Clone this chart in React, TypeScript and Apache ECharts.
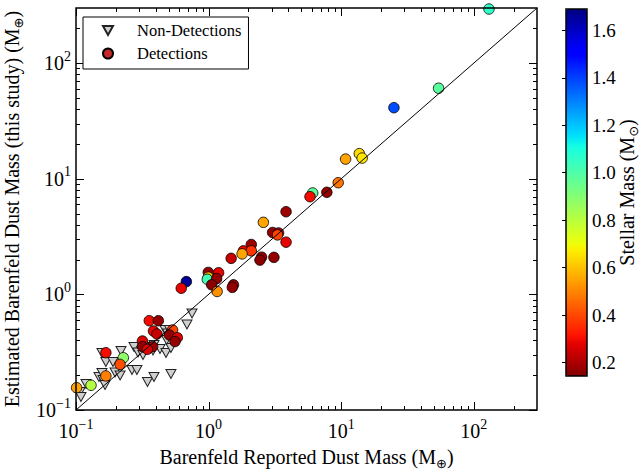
import React, { useEffect, useRef } from 'react';
import * as echarts from 'echarts';

// ---- Data ----
const AXIS_MIN = 0.1;
const AXIS_MAX = 300;
const MASS_MIN = 0.143;
const MASS_MAX = 1.69;

// Detections: reported dust mass (x), estimated dust mass (y), stellar mass (colour)
const DET_X = [130.3, 54.3, 25.0, 10.8, 13.7, 14.4, 9.5, 7.8, 6.1, 5.82, 3.84, 2.59, 3.04, 3.37, 3.31, 3.84, 2.10, 1.83, 2.10, 1.79, 1.48, 2.51, 2.44, 3.11, 0.995, 1.19, 0.995, 0.978, 1.15, 1.055, 1.16, 1.54, 1.51, 0.68, 0.622, 0.357, 0.418, 0.384, 0.408, 0.535, 0.506, 0.581, 0.558, 0.317, 0.318, 0.378, 0.168, 0.2275, 0.215, 0.168, 0.1298, 0.101, 0.345];
const DET_Y = [294, 60.7, 41.2, 14.8, 16.5, 15.1, 9.25, 7.64, 7.54, 7.0, 5.19, 4.2, 3.43, 3.40, 3.27, 2.83, 2.70, 2.38, 2.38, 2.24, 2.05, 2.10, 1.98, 2.09, 1.55, 1.54, 1.41, 1.35, 1.37, 1.21, 1.06, 1.21, 1.15, 1.29, 1.13, 0.592, 0.592, 0.482, 0.454, 0.492, 0.446, 0.422, 0.391, 0.395, 0.353, 0.353, 0.313, 0.283, 0.248, 0.197, 0.1636, 0.156, 0.335];
const DET_MASS = [1.06, 0.98, 1.38, 0.55, 0.64, 0.66, 0.47, 0.17, 0.97, 0.30, 0.18, 0.55, 0.17, 0.19, 0.39, 0.28, 0.18, 0.29, 0.37, 0.55, 0.24, 0.17, 0.16, 0.17, 0.17, 0.28, 0.60, 1.02, 0.17, 0.16, 0.52, 0.17, 0.17, 1.66, 0.28, 0.30, 0.17, 0.28, 0.24, 0.39, 0.17, 0.27, 0.17, 0.27, 0.17, 0.18, 0.30, 0.88, 0.41, 0.49, 0.81, 0.55, 0.27];

// Non-detections (upper limits)
const NON_X = [0.1072, 0.109, 0.119, 0.149, 0.157, 0.16, 0.1656, 0.157, 0.168, 0.19, 0.197, 0.215, 0.2185, 0.2644, 0.288, 0.274, 0.2935, 0.32, 0.346, 0.3875, 0.52, 0.381, 0.43, 0.4773, 0.52, 0.469, 0.49, 0.5073, 0.75, 0.687, 0.483, 0.3875, 0.337];
const NON_Y = [0.143, 0.1296, 0.168, 0.193, 0.209, 0.1817, 0.1644, 0.311, 0.26, 0.26, 0.211, 0.199, 0.324, 0.222, 0.222, 0.351, 0.3144, 0.299, 0.1746, 0.193, 0.2048, 0.327, 0.337, 0.311, 0.344, 0.492, 0.459, 0.492, 0.684, 0.549, 0.403, 0.365, 0.351];

const ONE_TO_ONE = [[0.1, 0.1], [300, 300]];

const MAJOR_TICKS = [0.1, 1, 10, 100];
const MINOR_TICKS = [0.2, 0.3, 0.4, 0.5, 0.6, 0.7, 0.8, 0.9, 2, 3, 4, 5, 6, 7, 8, 9, 20, 30, 40, 50, 60, 70, 80, 90, 200];
const CBAR_TICKS = [0.2, 0.4, 0.6, 0.8, 1.0, 1.2, 1.4, 1.6];

const SERIF = "'Liberation Serif', 'DejaVu Serif', serif";
const TRI = 'path://M0,0L10,0L5,9Z';

// jet colormap (matplotlib segment data)
function interp(pts: number[][], s: number) {
  for (let i = 1; i < pts.length; i++) {
    if (s <= pts[i][0]) {
      const [x0, y0] = pts[i - 1];
      const [x1, y1] = pts[i];
      return y0 + ((s - x0) / (x1 - x0)) * (y1 - y0);
    }
  }
  return pts[pts.length - 1][1];
}
function jet(s: number) {
  const r = interp([[0, 0], [0.35, 0], [0.66, 1], [0.89, 1], [1, 0.5]], s);
  const g = interp([[0, 0], [0.125, 0], [0.375, 1], [0.64, 1], [0.91, 0], [1, 0]], s);
  const b = interp([[0, 0.5], [0.11, 1], [0.34, 1], [0.65, 0], [1, 0]], s);
  const h = (v: number) => Math.round(Math.max(0, Math.min(1, v)) * 255).toString(16).padStart(2, '0');
  return '#' + h(r) + h(g) + h(b);
}
const JET_R: string[] = [];
for (let i = 0; i <= 64; i++) JET_R.push(jet(1 - i / 64));

function supLabel(v: number) {
  const e = Math.log10(v);
  const r = Math.round(e);
  if (Math.abs(e - r) > 1e-6) return '';
  return '{b|10}{s|' + (r < 0 ? '\u2212' : '') + Math.abs(r) + '}';
}

const labelRich = {
  b: { fontSize: 20, fontFamily: SERIF, color: '#000', lineHeight: 22 },
  s: { fontSize: 14, fontFamily: SERIF, color: '#000', lineHeight: 14, padding: [0, 0, 14, 0] },
};
const nameRich = {
  t: { fontSize: 20, fontFamily: SERIF, color: '#000', lineHeight: 22 },
  sub: { fontSize: 13, fontFamily: "'DejaVu Sans', sans-serif", color: '#000', lineHeight: 13, padding: [12, 0, 0, 0] },
};

function tickSeries(values: number[], axis: 'x' | 'y', len: number) {
  return {
    type: 'custom',
    xAxisIndex: 0,
    yAxisIndex: 0,
    silent: true,
    z: 6,
    clip: false,
    data: values.map((v) => (axis === 'x' ? [v, 1] : [1, v])),
    renderItem: (params: any, api: any) => {
      const cs = params.coordSys;
      const p = api.coord([api.value(0), api.value(1)]);
      const st = { stroke: '#000', lineWidth: 1 };
      if (axis === 'x') {
        const x = Math.round(p[0]) + 0.5;
        return {
          type: 'group',
          children: [
            { type: 'line', shape: { x1: x, y1: cs.y + cs.height, x2: x, y2: cs.y + cs.height - len }, style: st },
            { type: 'line', shape: { x1: x, y1: cs.y, x2: x, y2: cs.y + len }, style: st },
          ],
        };
      }
      const y = Math.round(p[1]) + 0.5;
      return {
        type: 'group',
        children: [
          { type: 'line', shape: { x1: cs.x, y1: y, x2: cs.x + len, y2: y }, style: st },
          { type: 'line', shape: { x1: cs.x + cs.width, y1: y, x2: cs.x + cs.width - len, y2: y }, style: st },
        ],
      };
    },
  };
}

export default function App() {
  const ref = useRef<HTMLDivElement>(null);
  useEffect(() => {
    if (!ref.current) return;
    const chart = echarts.init(ref.current, undefined, { renderer: 'svg' });
    const detData = DET_X.map((x, i) => [x, DET_Y[i], DET_MASS[i]]);
    const nonData = NON_X.map((x, i) => [x, NON_Y[i]]);
    chart.setOption({
      animation: false,
      backgroundColor: '#fff',
      textStyle: { fontFamily: SERIF, color: '#000' },
      grid: [
        { left: 76, top: 8, width: 461, height: 402, show: true, borderColor: '#000', borderWidth: 1.5, backgroundColor: 'transparent', z: 10, outerBoundsMode: 'none' },
        { left: 566, top: 9, width: 21, height: 367, show: true, borderColor: '#000', borderWidth: 1.5, backgroundColor: 'transparent', z: 10, outerBoundsMode: 'none' },
      ],
      xAxis: [
        {
          gridIndex: 0, type: 'log', logBase: 10, min: AXIS_MIN, max: AXIS_MAX,
          axisLine: { show: false }, axisTick: { show: false }, splitLine: { show: false },
          axisLabel: { margin: 10, formatter: supLabel, rich: labelRich },
          name: '{t|Barenfeld Reported Dust Mass (M}{sub|\u2295}{t|)}',
          nameLocation: 'middle', nameGap: 36, nameMoveOverlap: false,
          nameTextStyle: { rich: nameRich },
        },
        { gridIndex: 1, type: 'value', min: 0, max: 1, show: false },
      ],
      yAxis: [
        {
          gridIndex: 0, type: 'log', logBase: 10, min: AXIS_MIN, max: AXIS_MAX,
          axisLine: { show: false }, axisTick: { show: false }, splitLine: { show: false },
          axisLabel: { margin: 5, formatter: supLabel, rich: labelRich },
          name: '{t|Estimated Barenfeld Dust Mass (this study) (M}{sub|\u2295}{t|)}',
          nameLocation: 'middle', nameGap: 53, nameRotate: 90, nameMoveOverlap: false,
          nameTextStyle: { rich: nameRich },
        },
        {
          gridIndex: 1, type: 'value', min: MASS_MIN, max: MASS_MAX, position: 'right',
          axisLine: { show: false }, splitLine: { show: false },
          axisTick: { show: true, inside: true, length: 4, lineStyle: { color: '#000' }, customValues: CBAR_TICKS },
          axisLabel: { margin: 5, fontSize: 19, color: '#000', fontFamily: SERIF, customValues: CBAR_TICKS, formatter: (v: number) => v.toFixed(1) },
          name: '{t|Stellar Mass (M}{sub|\u2299}{t|)}',
          nameLocation: 'middle', nameGap: 29, nameRotate: 90, nameMoveOverlap: false,
          nameTextStyle: { rich: nameRich },
        },
      ],
      visualMap: {
        type: 'continuous', min: MASS_MIN, max: MASS_MAX, dimension: 2, seriesIndex: 1,
        inRange: { color: JET_R }, calculable: false, hoverLink: false, orient: 'vertical',
        left: 566, top: 9, itemWidth: 21, itemHeight: 367, padding: 0,
      },
      legend: {
        data: [{ name: 'Non-Detections', icon: TRI }, { name: 'Detections', icon: 'circle' }],
        orient: 'vertical', left: 83, top: 17, padding: [5, 7, 7, 19], itemGap: 6,
        itemWidth: 10, itemHeight: 10, borderColor: '#000', borderWidth: 1, backgroundColor: '#fff',
        selectedMode: false, z: 20,
        textStyle: { fontSize: 16.5, fontFamily: SERIF, color: '#000', padding: [0, 0, 0, 19] },
      },
      series: [
        {
          name: 'Non-Detections', type: 'scatter', xAxisIndex: 0, yAxisIndex: 0,
          symbol: TRI, symbolSize: [10, 9], data: nonData,
          itemStyle: { color: '#d0d0d0', borderColor: '#222', borderWidth: 1, opacity: 1 }, z: 2,
        },
        {
          name: 'Detections', type: 'scatter', xAxisIndex: 0, yAxisIndex: 0,
          symbol: 'circle', symbolSize: 10.5, data: detData,
          itemStyle: { color: '#c62828', borderColor: '#000', borderWidth: 0.8, opacity: 1 }, z: 3,
        },
        {
          name: 'one-to-one', type: 'line', xAxisIndex: 0, yAxisIndex: 0, data: ONE_TO_ONE,
          showSymbol: false, symbol: 'none', silent: true, lineStyle: { color: '#000', width: 1 }, z: 4,
        },
        tickSeries(MAJOR_TICKS, 'x', 8),
        tickSeries(MINOR_TICKS, 'x', 4),
        tickSeries(MAJOR_TICKS, 'y', 8),
        tickSeries(MINOR_TICKS, 'y', 4),
      ],
    } as any);
    return () => chart.dispose();
  }, []);
  return <div ref={ref} style={{ position: 'fixed', left: 0, top: 0, width: 642, height: 473 }} />;
}
